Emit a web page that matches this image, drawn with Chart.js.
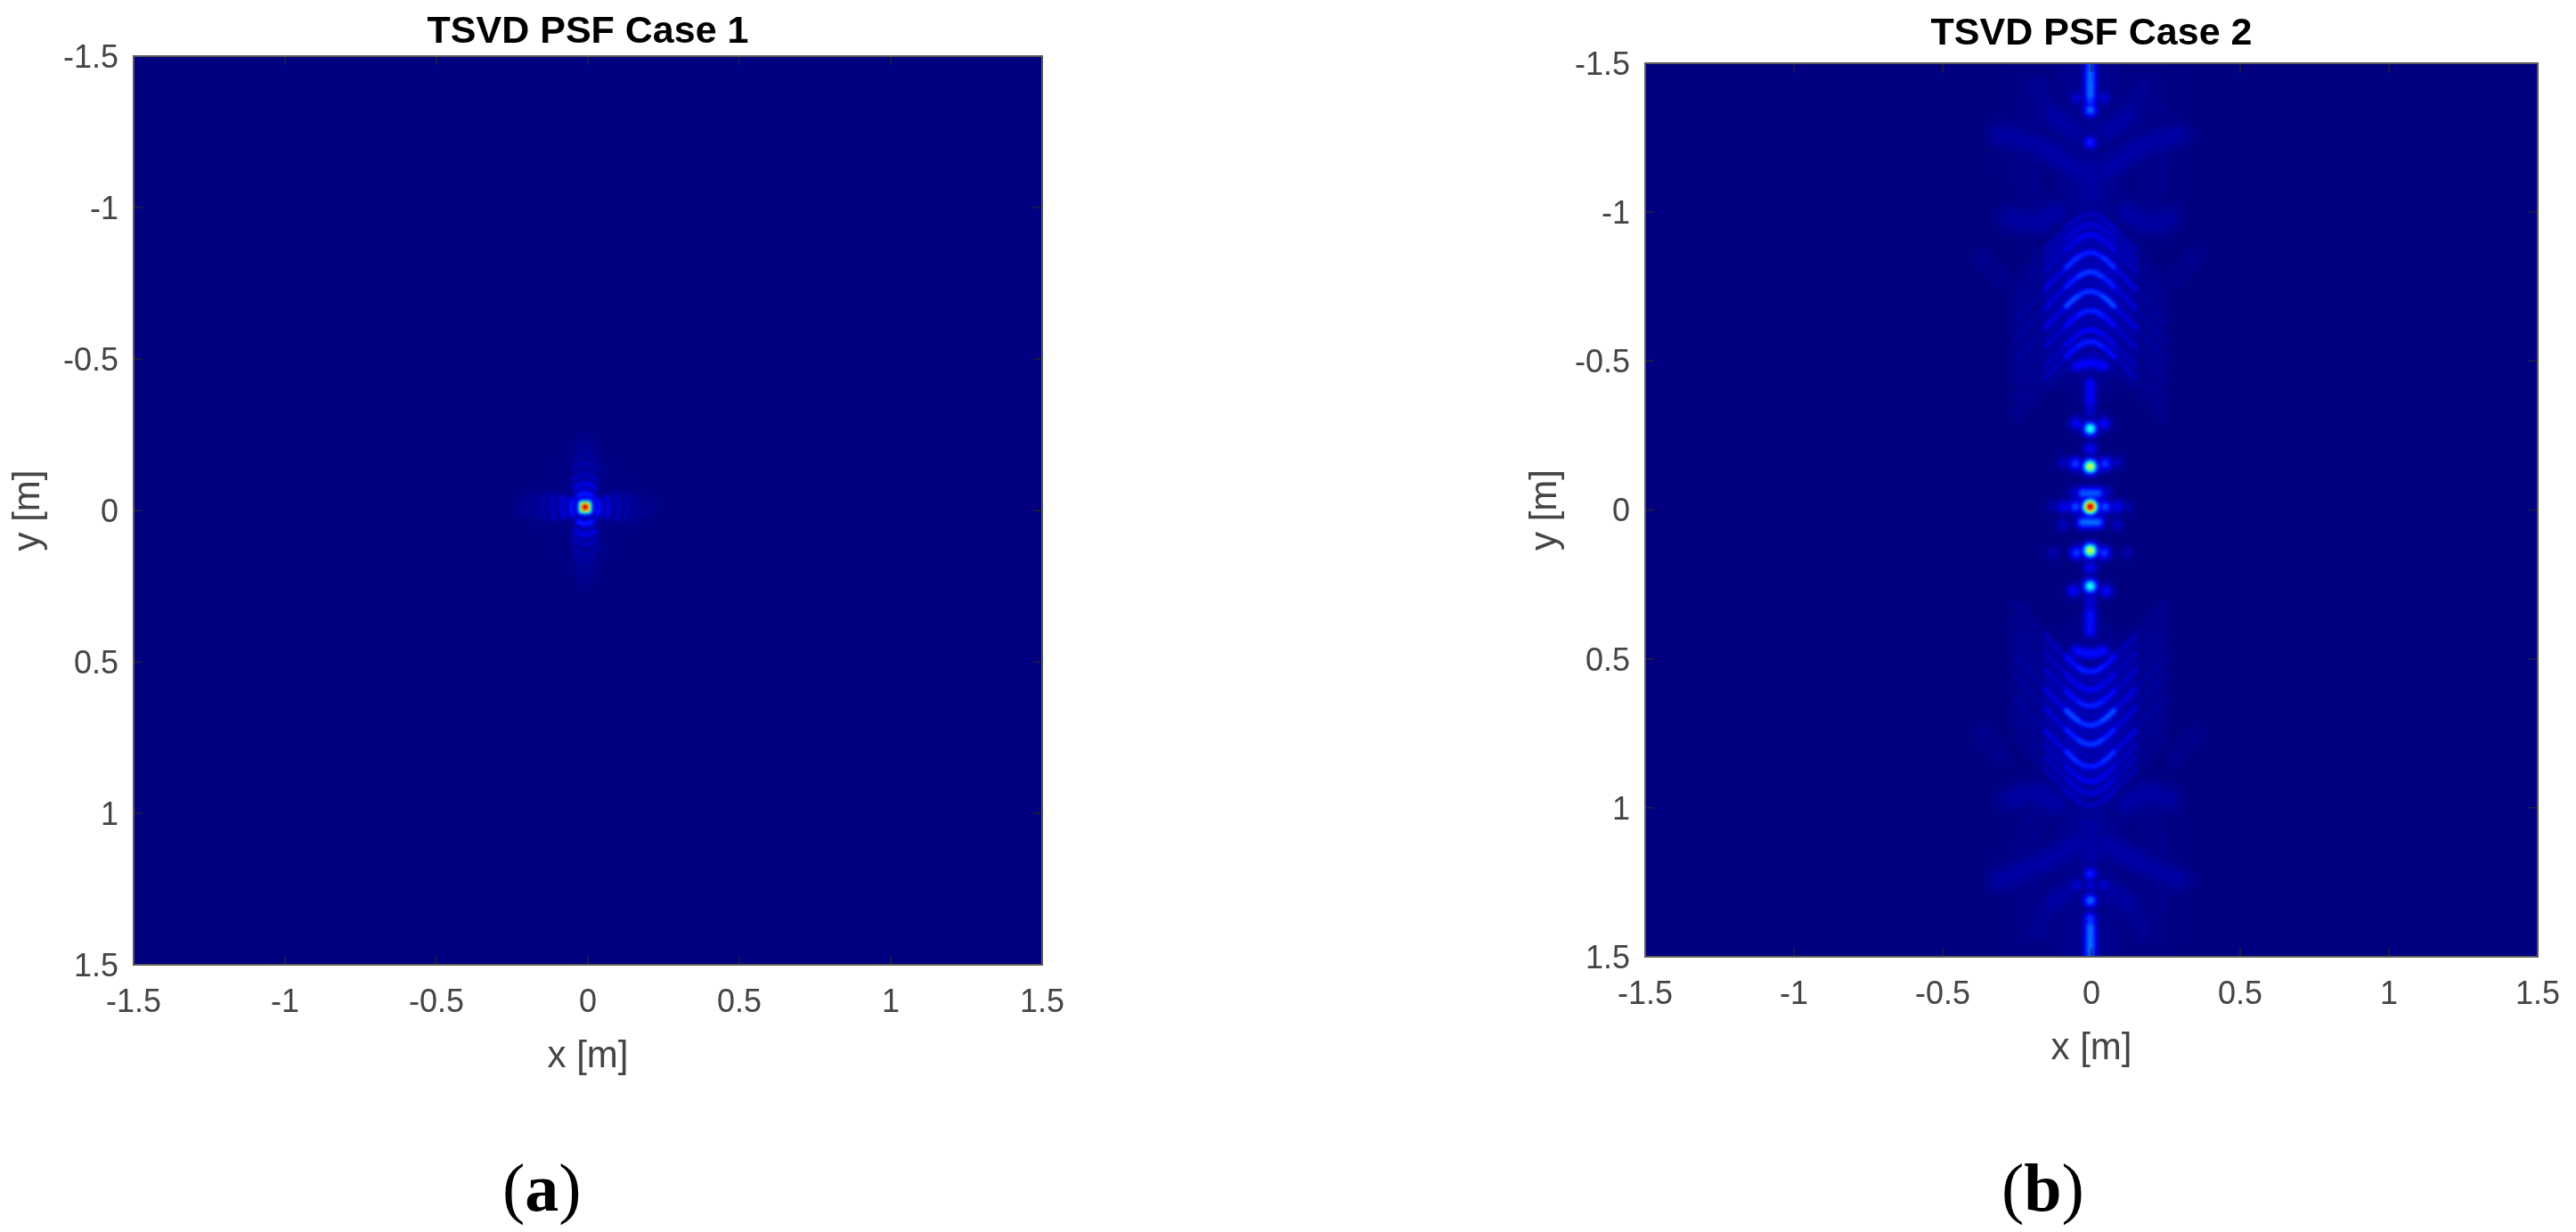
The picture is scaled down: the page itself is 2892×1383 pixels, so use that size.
<!DOCTYPE html>
<html><head><meta charset="utf-8">
<script src="https://cdn.jsdelivr.net/npm/chart.js@4"></script>
<style>
html,body{margin:0;padding:0;background:#fff;width:2892px;height:1383px;overflow:hidden}
canvas{position:absolute;top:0}
.cap{position:absolute;font-family:"Liberation Serif",serif;font-size:76px;line-height:76px;color:#000}
.cap b{font-weight:700}
</style></head><body>
<canvas id="a" width="1446" height="1290" style="left:0;width:1446px;height:1290px"></canvas>
<canvas id="b" width="1446" height="1290" style="left:1446px;width:1446px;height:1290px"></canvas>
<div class="cap" style="left:564px;top:1295px">(<b>a</b>)</div>
<div class="cap" style="left:2247px;top:1295px">(<b>b</b>)</div>
<script>
const titleA = 'TSVD PSF Case 1';
const titleB = 'TSVD PSF Case 2';
const xAxisTitle = 'x [m]';
const yAxisTitle = 'y [m]';
const tickValues = [-1.5,-1,-0.5,0,0.5,1,1.5];
const tickLabels = ['-1.5','-1','-0.5','0','0.5','1','1.5'];

const spotXA = [-0.009];
const spotYA = [-0.011];
const spotVA = [1];
const ridgesA = [
 [[.033,-.033,.08],[.037,-.011,.22],[.033,.011,.08]],
 [[.062,-.04,.04],[.07,-.011,.16],[.062,.018,.04]],
 [[.094,-.048,.025],[.103,-.011,.1],[.094,.026,.025]],
 [[.124,-.048,.015],[.133,-.011,.07],[.124,.026,.015]],
 [[.155,-.043,.01],[.163,-.011,.05],[.155,.021,.01]],
 [[.185,-.038,.008],[.191,-.011,.035],[.185,.016,.008]],
 [[.216,-.033,.006],[.221,-.011,.025],[.216,.011,.006]],
 [[-.051,-.033,.08],[-.055,-.011,.22],[-.051,.011,.08]],
 [[-.08,-.04,.04],[-.088,-.011,.16],[-.08,.018,.04]],
 [[-.112,-.048,.025],[-.121,-.011,.1],[-.112,.026,.025]],
 [[-.142,-.048,.015],[-.151,-.011,.07],[-.142,.026,.015]],
 [[-.173,-.043,.01],[-.181,-.011,.05],[-.173,.021,.01]],
 [[-.203,-.038,.008],[-.209,-.011,.035],[-.203,.016,.008]],
 [[-.234,-.033,.006],[-.239,-.011,.025],[-.234,.011,.006]],
 [[-.031,-.048,.09],[-.009,-.056,.24],[.013,-.048,.09]],
 [[-.039,-.076,.04],[-.009,-.088,.18],[.021,-.076,.04]],
 [[-.044,-.105,.025],[-.009,-.121,.1],[.026,-.105,.025]],
 [[-.044,-.14,.015],[-.009,-.156,.08],[.026,-.14,.015]],
 [[-.039,-.175,.01],[-.009,-.191,.06],[.021,-.175,.01]],
 [[-.034,-.208,.008],[-.009,-.221,.045],[.016,-.208,.008]],
 [[-.029,-.24,.006],[-.009,-.251,.03],[.011,-.24,.006]],
 [[-.031,.037,.09],[-.009,.045,.24],[.013,.037,.09]],
 [[-.039,.069,.04],[-.009,.081,.18],[.021,.069,.04]],
 [[-.044,.098,.025],[-.009,.114,.1],[.026,.098,.025]],
 [[-.044,.133,.015],[-.009,.149,.08],[.026,.133,.015]],
 [[-.039,.163,.01],[-.009,.179,.06],[.021,.163,.01]],
 [[-.034,.196,.008],[-.009,.209,.045],[.016,.196,.008]],
 [[-.029,.228,.006],[-.009,.239,.03],[.011,.228,.006]]
];
const axisA = [];
const broadA = [];
const haloA = [
 [[-.12,-.011,.008],[-.009,-.011,.015],[.10,-.011,.008]],
 [[-.009,-.13,.008],[-.009,-.02,.015],[-.009,.11,.008]]
];

const spotXB = [-.004,-.004,-.004,-.004,-.004,-.054,.046,-.094,.086,-.054,.046,-.05,.042,-.05,.042,-.06,.05,-.06,.05,-.004,-.004,-.004,-.004,-.05,.042,-.004,-.004,-.004,-.05,.042,-.094,.086,-.094,.086,-.13,.12,-.13,.12];
const spotYB = [-.011,-.146,.136,-.273,.256,-.011,-.011,-.011,-.011,-.155,-.155,.144,.144,-.29,-.29,.272,.272,-.06,-.06,-.206,.194,-1.343,-1.234,-1.383,-1.383,1.222,1.311,1.26,1.26,1.26,.05,.05,-.16,-.16,.144,.144,-.011,-.011];
const spotVB = [1,.64,.64,.44,.44,.22,.22,.13,.13,.2,.2,.2,.2,.14,.14,.14,.14,.07,.07,.13,.13,.25,.17,.09,.09,.17,.25,.09,.09,.09,.07,.07,.07,.07,.05,.05,.05,.05];
const axisB = [
 [[-.03,-.056,.16],[-.004,-.056,.3],[.022,-.056,.16]],
 [[-.03,.041,.18],[-.004,.041,.32],[.022,.041,.18]],
 [[-.05,-.484,.1],[-.004,-.494,.18],[.042,-.484,.1]],
 [[-.05,.473,.1],[-.004,.483,.19],[.042,.473,.1]],
 [[-.004,-.425,.1],[-.004,-.395,.17],[-.004,-.365,.1],[-.004,-.33,.07]],
 [[-.004,.30,.09],[-.004,.345,.11],[-.004,.385,.19],[-.004,.41,.1]],
 [[-.004,-1.50,.2],[-.004,-1.47,.24],[-.004,-1.43,.25],[-.004,-1.39,.25],[-.004,-1.37,.14]],
 [[-.004,1.37,.14],[-.004,1.40,.25],[-.004,1.44,.25],[-.004,1.48,.26],[-.004,1.50,.2]]
];
const ridgesB = [];
const broadB = [
 [[-.3,-1.26,.02],[-.155,-1.213,.055],[-.05,-1.14,.03]],
 [[.29,-1.26,.02],[.155,-1.213,.055],[.05,-1.14,.03]],
 [[-.3,1.24,.02],[-.155,1.18,.055],[-.05,1.12,.03]],
 [[.29,1.24,.02],[.155,1.18,.055],[.05,1.12,.03]],
 [[-.27,-.98,.02],[-.19,-.964,.05],[-.12,-1.0,.03]],
 [[.26,-.98,.02],[.19,-.964,.05],[.12,-1.0,.03]],
 [[-.27,.97,.02],[-.19,.952,.05],[-.12,.985,.03]],
 [[.26,.97,.02],[.19,.952,.05],[.12,.985,.03]],
 [[-.18,-1.42,.012],[-.13,-1.33,.035],[-.06,-1.27,.04]],
 [[.17,-1.42,.012],[.125,-1.33,.035],[.05,-1.27,.04]],
 [[-.18,1.41,.012],[-.13,1.32,.035],[-.06,1.27,.04]],
 [[.17,1.41,.012],[.125,1.32,.035],[.05,1.27,.04]],
 [[-.37,-.85,.006],[-.34,-.814,.02],[-.30,-.77,.006]],
 [[.35,-.85,.006],[.32,-.814,.02],[.28,-.77,.006]],
 [[-.37,.75,.006],[-.34,.78,.02],[-.30,.83,.006]],
 [[.35,.75,.006],[.32,.78,.02],[.28,.83,.006]],
 [[-.004,-1.14,.03],[-.004,-1.105,.055],[-.004,-1.06,.02]],
 [[-.004,1.06,.02],[-.004,1.12,.055],[-.004,1.16,.03]]
];
const haloB = [
 [[-.004,-1.45,.02],[-.004,-1.1,.022],[-.004,-.9,.025],[-.004,-.7,.028],[-.004,-.5,.02]],
 [[-.004,.5,.02],[-.004,.7,.028],[-.004,.9,.025],[-.004,1.1,.022],[-.004,1.45,.02]],
 [[-.2,-1.42,.008],[-.22,-1.15,.014],[-.16,-.95,.008]],
 [[.2,-1.42,.008],[.22,-1.15,.014],[.16,-.95,.008]],
 [[-.2,1.42,.008],[-.22,1.15,.014],[-.16,.95,.008]],
 [[.2,1.42,.008],[.22,1.15,.014],[.16,.95,.008]]
];
const fringeXB = [-.254,-.154,-.084,-.044,-.004,.036,.076,.146,.246];
const fringeYB = [
 [-.295,-.405,-.475,-.51,-.525,-.51,-.475,-.405,-.295],
 [-.335,-.445,-.515,-.55,-.565,-.55,-.515,-.445,-.335],
 [-.375,-.485,-.555,-.59,-.605,-.59,-.555,-.485,-.375],
 [-.407,-.517,-.587,-.622,-.637,-.622,-.587,-.517,-.407],
 [-.439,-.549,-.619,-.654,-.669,-.654,-.619,-.549,-.439],
 [-.47,-.58,-.65,-.685,-.70,-.685,-.65,-.58,-.47],
 [-.504,-.614,-.684,-.719,-.734,-.719,-.684,-.614,-.504],
 [-.536,-.646,-.716,-.751,-.766,-.751,-.716,-.646,-.536],
 [-.569,-.679,-.749,-.784,-.799,-.784,-.749,-.679,-.569],
 [-.60,-.71,-.78,-.815,-.83,-.815,-.78,-.71,-.60],
 [-.634,-.744,-.814,-.849,-.864,-.849,-.814,-.744,-.634],
 [-.665,-.775,-.845,-.88,-.895,-.88,-.845,-.775,-.665],
 [-.694,-.804,-.874,-.909,-.924,-.909,-.874,-.804,-.694],
 [-.729,-.839,-.909,-.944,-.959,-.944,-.909,-.839,-.729],
 [-.764,-.874,-.944,-.979,-.994,-.979,-.944,-.874,-.764],
 [.313,.423,.493,.528,.543,.528,.493,.423,.313],
 [.343,.453,.523,.558,.573,.558,.523,.453,.343],
 [.373,.483,.553,.588,.603,.588,.553,.483,.373],
 [.40,.51,.58,.615,.63,.615,.58,.51,.40],
 [.428,.538,.608,.643,.658,.643,.608,.538,.428],
 [.46,.57,.64,.675,.69,.675,.64,.57,.46],
 [.493,.603,.673,.708,.723,.708,.673,.603,.493],
 [.525,.635,.705,.74,.755,.74,.705,.635,.525],
 [.557,.667,.737,.772,.787,.772,.737,.667,.557],
 [.595,.705,.775,.81,.825,.81,.775,.705,.595],
 [.632,.742,.812,.847,.862,.847,.812,.742,.632],
 [.655,.765,.835,.87,.885,.87,.835,.765,.655],
 [.682,.792,.862,.897,.912,.897,.862,.792,.682],
 [.722,.832,.902,.937,.952,.937,.902,.832,.722],
 [.762,.872,.942,.977,.992,.977,.942,.872,.762]
];
const fringeVB = [
 [.008,.02,.035,.05,.06,.05,.035,.02,.008],
 [.012,.035,.09,.2,.14,.2,.09,.035,.012],
 [.012,.035,.09,.14,.13,.14,.09,.035,.012],
 [.01,.025,.05,.06,.06,.06,.05,.025,.01],
 [.015,.045,.11,.18,.17,.18,.11,.045,.015],
 [.012,.03,.06,.07,.06,.07,.06,.03,.012],
 [.015,.055,.15,.3,.09,.3,.15,.055,.015],
 [.012,.03,.065,.07,.06,.07,.065,.03,.012],
 [.015,.055,.14,.2,.22,.2,.14,.055,.015],
 [.012,.03,.065,.07,.06,.07,.065,.03,.012],
 [.015,.055,.15,.23,.11,.23,.15,.055,.015],
 [.01,.025,.055,.06,.06,.06,.055,.025,.01],
 [.01,.04,.1,.12,.14,.12,.1,.04,.01],
 [.01,.035,.09,.1,.1,.1,.09,.035,.01],
 [.01,.03,.08,.07,.06,.07,.08,.03,.01],
 [.012,.035,.09,.2,.14,.2,.09,.035,.012],
 [.01,.025,.05,.06,.06,.06,.05,.025,.01],
 [.012,.035,.09,.14,.13,.14,.09,.035,.012],
 [.01,.025,.05,.06,.06,.06,.05,.025,.01],
 [.015,.045,.11,.18,.17,.18,.11,.045,.015],
 [.012,.03,.06,.07,.06,.07,.06,.03,.012],
 [.015,.055,.15,.31,.09,.31,.15,.055,.015],
 [.012,.03,.065,.07,.06,.07,.065,.03,.012],
 [.015,.055,.14,.2,.22,.2,.14,.055,.015],
 [.012,.03,.065,.07,.06,.07,.065,.03,.012],
 [.015,.055,.15,.23,.11,.23,.15,.055,.015],
 [.01,.025,.055,.06,.06,.06,.055,.025,.01],
 [.01,.04,.1,.12,.13,.12,.1,.04,.01],
 [.01,.035,.09,.1,.1,.1,.09,.035,.01],
 [.01,.03,.08,.07,.06,.07,.08,.03,.01]
];

const levels = [.005,.01,.015,.02,.025,.03,.035,.04,.05,.06,.07,.085,.1,.12,.14,.16,.18,.21,.24,.27,.3,.34,.38,.42,.46,.5,.55,.6,.65,.7,.75,.8,.85,.9,.95];
const clip01 = t => Math.max(0, Math.min(1, t));
function jet(v){
  const r = clip01(Math.min(4*v-1.5, -4*v+4.5));
  const g = clip01(Math.min(4*v-.5, -4*v+3.5));
  const b = clip01(Math.min(4*v+.5, -4*v+2.5));
  return `rgb(${Math.round(r*255)},${Math.round(g*255)},${Math.round(b*255)})`;
}
const halfWidth = (v, L, s) => v > L ? s * Math.sqrt(2 * Math.log(v / L)) : 0;
const SPOT_SIGMA = 5.4, RIDGE_SIGMA = 3.2, AXIS_SIGMA = 5, BROAD_SIGMA = 11, HALO_SIGMA = 30;

function buildDatasets(spotX, spotY, spotV, ridges, axis, broad, halos, spotStyle){
  const out = [];
  const spots = spotX.map((x, i) => ({x, y: spotY[i], v: spotV[i]}));
  levels.forEach((L, li) => {
    const color = jet(L);
    const order = levels.length - li;
    const addRidge = (r, sigma) => {
      const pts = r.map(p => ({x: p[0], y: p[1], v: p[2]}));
      if (Math.max(...pts.map(p => p.v)) < L) return;
      const avg = c => (pts[c.p0DataIndex].v + pts[c.p1DataIndex].v) / 2;
      out.push({type: 'scatter', showLine: true, data: pts, order, clip: 0,
        pointRadius: 0, tension: .45, borderCapStyle: 'round', borderColor: color, borderWidth: 1,
        segment: {
          borderWidth: c => Math.max(.1, 2 * halfWidth(avg(c), L, sigma)),
          borderColor: c => avg(c) >= L ? color : 'rgba(0,0,0,0)'
        }});
    };
    halos.forEach(r => addRidge(r, HALO_SIGMA));
    broad.forEach(r => addRidge(r, BROAD_SIGMA));
    ridges.forEach(r => addRidge(r, RIDGE_SIGMA));
    axis.forEach(r => addRidge(r, AXIS_SIGMA));
    const d = spots.filter(p => p.v >= L);
    if (d.length) out.push({type: 'scatter', data: d, order, clip: 0,
      pointStyle: spotStyle, borderWidth: 0, pointBorderWidth: 0,
      pointBackgroundColor: color,
      pointRadius: c => halfWidth(c.raw.v, L, SPOT_SIGMA)});
  });
  return out;
}

const fringesB = fringeYB.map((row, i) => row.map((y, j) => [fringeXB[j], y, fringeVB[i][j]]));

const imagePlugin = {
  id: 'imagePlugin',
  beforeDatasetsDraw(chart){
    const {ctx, chartArea: a} = chart;
    ctx.save(); ctx.fillStyle = jet(0); ctx.fillRect(a.left, a.top, a.width, a.height); ctx.restore();
  },
  afterDatasetsDraw(chart){
    const {ctx, chartArea: a, scales} = chart;
    const off = document.createElement('canvas');
    off.width = a.width; off.height = a.height;
    off.getContext('2d').drawImage(chart.canvas, a.left, a.top, a.width, a.height, 0, 0, a.width, a.height);
    ctx.save();
    ctx.beginPath(); ctx.rect(a.left, a.top, a.width, a.height); ctx.clip();
    ctx.filter = 'blur(1.4px)';
    ctx.drawImage(off, a.left, a.top);
    ctx.restore();
    ctx.save();
    ctx.strokeStyle = 'rgba(40,40,40,.85)'; ctx.lineWidth = 1.5;
    const T = 10;
    tickValues.forEach(v => {
      const x = scales.x.getPixelForValue(v), y = scales.y.getPixelForValue(v);
      ctx.beginPath();
      ctx.moveTo(x, a.top); ctx.lineTo(x, a.top + T);
      ctx.moveTo(x, a.bottom); ctx.lineTo(x, a.bottom - T);
      ctx.moveTo(a.left, y); ctx.lineTo(a.left + T, y);
      ctx.moveTo(a.right, y); ctx.lineTo(a.right - T, y);
      ctx.stroke();
    });
    ctx.strokeStyle = '#5a5a5a'; ctx.lineWidth = 2;
    ctx.strokeRect(a.left, a.top, a.width, a.height);
    ctx.restore();
  }
};

function makeChart(id, title, datasets, pad, titleTop, titleBottom, yTitleTop){
  const fixTicks = s => { s.ticks = tickValues.map(value => ({value})); };
  const tickFont = {family: '"Liberation Sans"', size: 36};
  const axisFont = {family: '"Liberation Sans"', size: 42, lineHeight: 1};
  const gray = '#454545';
  const noPad = s => { s.paddingLeft = s.paddingRight = s.paddingTop = s.paddingBottom = 0; };
  return new Chart(document.getElementById(id), {
    data: {datasets},
    plugins: [imagePlugin],
    options: {
      responsive: false, animation: false, events: [],
      layout: {padding: pad},
      plugins: {
        legend: {display: false}, tooltip: {enabled: false},
        title: {display: true, text: title, color: '#000', fullSize: false,
          font: {family: '"Liberation Sans"', size: 43, weight: 'bold', lineHeight: 1},
          padding: {top: titleTop, bottom: titleBottom}}
      },
      scales: {
        x: {type: 'linear', min: -1.5, max: 1.5, afterBuildTicks: fixTicks,
          afterFit: s => { noPad(s); s.height = 125; },
          grid: {display: false, drawTicks: false}, border: {display: false},
          ticks: {autoSkip: false, maxRotation: 0, minRotation: 0, padding: 21, color: gray, font: tickFont,
            callback: (v, i) => tickLabels[i]},
          title: {display: true, text: xAxisTitle, color: gray, font: axisFont, padding: {top: 0, bottom: 1}}},
        y: {type: 'linear', reverse: true, min: -1.5, max: 1.5, afterBuildTicks: fixTicks,
          afterFit: s => { noPad(s); s.width = 150; },
          grid: {display: false, drawTicks: false}, border: {display: false},
          ticks: {autoSkip: false, padding: 17, labelOffset: 3, color: gray, font: tickFont,
            callback: (v, i) => tickLabels[i]},
          title: {display: true, text: yAxisTitle, color: gray, font: axisFont, padding: {top: yTitleTop, bottom: 0}}}
      }
    }
  });
}

makeChart('a', titleA, buildDatasets(spotXA, spotYA, spotVA, ridgesA, axisA, broadA, haloA, 'rectRounded'),
  {left: 0, right: 276, top: 0, bottom: 82}, 15, 5, 11);
makeChart('b', titleB, buildDatasets(spotXB, spotYB, spotVB, ridgesB.concat(fringesB), axisB, broadB, haloB, 'circle'),
  {left: 251, right: 43, top: 0, bottom: 91}, 17, 11, 17);
</script>
</body></html>
